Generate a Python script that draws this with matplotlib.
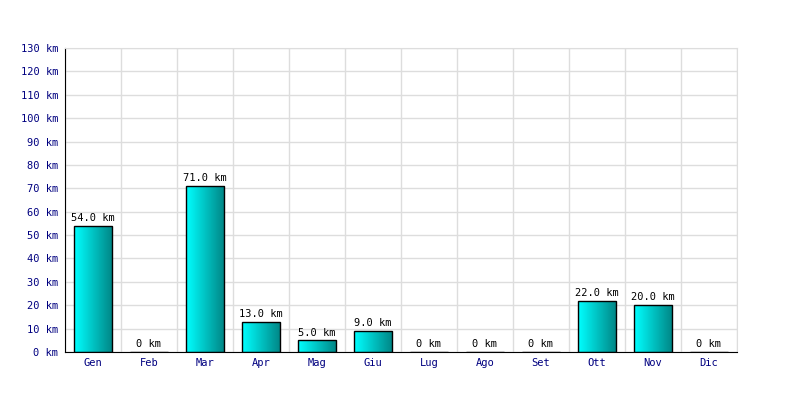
import matplotlib
matplotlib.use('Agg')
import matplotlib.pyplot as plt
import numpy as np
from matplotlib.colors import LinearSegmentedColormap

months = ['Gen', 'Feb', 'Mar', 'Apr', 'Mag', 'Giu', 'Lug', 'Ago', 'Set', 'Ott', 'Nov', 'Dic']
km = [54.0, 0, 71.0, 13.0, 5.0, 9.0, 0, 0, 0, 22.0, 20.0, 0]
yticks = list(range(0, 140, 10))

plt.rcParams['font.family'] = 'DejaVu Sans Mono'

fig = plt.figure(figsize=(8, 4), dpi=100)
ax = fig.add_axes([65/800, 48/400, 672/800, 304/400])

grad = LinearSegmentedColormap.from_list('cy', ['#00ffff', '#008585'])
x = np.arange(len(months))
bars = ax.bar(x, km, width=0.68, facecolor='none', edgecolor='black', linewidth=1, zorder=3)
g = np.linspace(0, 1, 64).reshape(1, -1)
for b in bars:
    h = b.get_height()
    if h <= 0:
        continue
    x0 = b.get_x()
    im = ax.imshow(g, cmap=grad, aspect='auto', extent=[x0, x0 + b.get_width(), 0, h],
                   zorder=2, interpolation='bicubic')
    im.set_clip_path(b)

for xi, v in zip(x, km):
    lab = f'{v:.1f} km' if v else '0 km'
    ax.text(xi, v + 1.2, lab, ha='center', va='bottom', fontsize=7.5, color='black', zorder=4)

ax.set_xlim(-0.5, len(months) - 0.5)
ax.set_ylim(0, 130)
ax.set_yticks(yticks)
ax.set_yticklabels([f'{t} km' for t in yticks])
ax.set_xticks(x)
ax.set_xticklabels(months)
ax.set_xticks(np.arange(-0.5, len(months), 1), minor=True)
ax.tick_params(axis='both', which='both', labelsize=7.5, labelcolor='#000080', length=0)
ax.tick_params(axis='y', pad=5)
ax.tick_params(axis='x', pad=4)
ax.grid(True, which='minor', axis='x', color='#dddddd', linewidth=1, zorder=0)
ax.grid(True, which='major', axis='y', color='#dddddd', linewidth=1, zorder=0)
ax.set_axisbelow(True)
for s in ['top', 'right']:
    ax.spines[s].set_color('#dddddd')
ax.spines['left'].set_color('black')
ax.spines['bottom'].set_color('black')

fig.savefig('out.png', dpi=100)
